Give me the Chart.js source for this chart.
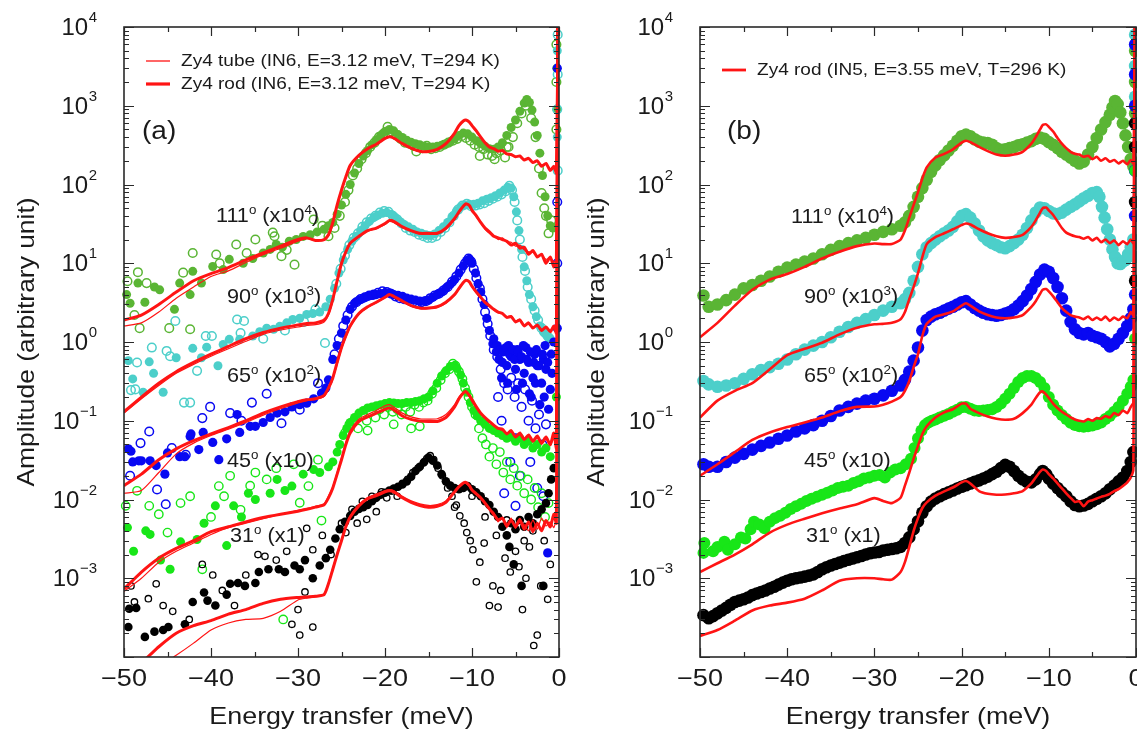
<!DOCTYPE html>
<html><head><meta charset="utf-8">
<script src="https://cdn.jsdelivr.net/npm/chart.js@4.4.1/dist/chart.umd.min.js"></script>
<style>
html,body{margin:0;padding:0;background:#fff;overflow:hidden;width:1137px;height:733px;position:relative;}
#ca{position:absolute;left:0;top:0;}
#cb{position:absolute;left:570px;top:0;}
</style></head><body>
<canvas id="ca" width="570" height="733"></canvas>
<canvas id="cb" width="590" height="733"></canvas>
<script>
// ---------- shared axes ----------
const X_TICKS = [-50, -40, -30, -20, -10, 0];
const X_TICK_LABELS = ['\u221250', '\u221240', '\u221230', '\u221220', '\u221210', '0'];
const Y_DECADES = [-3, -2, -1, 0, 1, 2, 3, 4];
const X_TITLE = 'Energy transfer (meV)';
const Y_TITLE = 'Amplitude (arbitrary unit)';
const ANGLE_LABELS = ['111', '90', '65', '45', '31'];
const SCALE_LABELS = ['(x10', '(x10', '(x10', '(x10)', '(x1)'];
const SCALE_EXPONENTS = ['4', '3', '2', '', ''];

// energy grid of the red reference curves
const E_RED = [-50,-48,-46,-44,-42,-40,-38,-36,-34,-32,
 -30,-29,-28,-27,-26.5,-26,-25.5,-25,-24.5,-24,
 -23,-22,-21,-20,-19.5,-19,-18,-17,-16,-15,
 -14,-13,-12,-11.5,-11,-10.7,-10.3,-10,-9.5,-9,
 -8.5,-8,-7.5,-7,-6.5,-6,-5.5,-5,-4.5,-4,
 -3.5,-3,-2.5,-2,-1.5,-1,-0.6,-0.3,-0.1];

// ---------- panel (a): red curves ----------
const A111_ROD = [1.9,2.2,3.0,4.3,6.0,7.4,8.8,11,13.5,16.5,
 20,21,19.5,20,23,33,55,85,125,175,
 235,285,325,385,405,390,330,290,265,262,
 280,330,450,560,640,660,620,560,480,400,
 340,300,285,265,270,245,240,225,230,205,
 215,190,200,170,185,150,170,140,20000];
const A111_TUBE = [1.6,1.75,2.4,3.6,5.0,6.8,8.0,10.2,12.8,15.5,
 19,20.5,19.5,19.5,22,31,52,82,120,170,
 230,280,320,380,400,385,325,285,262,260,
 278,325,440,550,630,650,610,550,470,395,
 335,295,280,262,268,240,245,222,232,208,
 212,192,198,175,182,158,168,145,20000];
const A90_ROD = [0.13,0.2,0.3,0.42,0.55,0.7,0.88,1.1,1.32,1.5,
 1.65,1.72,1.75,1.9,2.3,3.5,6,10,14,18,
 22,26,28,32,35,34,29,26,24,24,
 24,28,37,45,53,57,54,47,40,33,
 28,25,22,21,20,19,17,18,15.5,16,
 13,14.5,12,13,10,12,9,11,20000];
const A90_TUBE = [0.125,0.19,0.28,0.4,0.52,0.66,0.82,1.02,1.25,1.42,
 1.55,1.62,1.66,1.8,2.2,3.3,5.7,9.5,13.5,17.5,
 21.5,25.5,27.5,31,34,33,28.5,25.5,23.5,23.5,
 23.5,27,36,44,52,56,53,46,39,32.5,
 27,24,22.5,20,21,18.5,18.5,16.5,17,14.8,
 14,13.8,12.5,12.8,11.2,11.8,10.5,10.8,20000];
const A65_ROD = [0.015,0.021,0.032,0.044,0.056,0.068,0.082,0.1,0.125,0.15,
 0.175,0.185,0.19,0.21,0.26,0.35,0.55,0.85,1.2,1.6,
 2.3,2.8,3.2,3.7,4.0,3.8,3.3,2.9,2.7,2.7,
 2.8,3.2,4.0,4.8,5.7,6.1,5.8,5.1,4.3,3.7,
 3.2,2.9,2.6,2.4,2.3,2.05,2.1,1.8,1.9,1.6,
 1.75,1.5,1.65,1.4,1.55,1.35,1.6,1.3,20000];
const A65_TUBE = [0.012,0.013,0.022,0.038,0.052,0.065,0.078,0.095,0.118,0.142,
 0.168,0.18,0.186,0.205,0.25,0.34,0.52,0.82,1.15,1.55,
 2.25,2.75,3.15,3.65,3.95,3.75,3.25,2.85,2.65,2.65,
 2.75,3.1,3.9,4.7,5.6,6.0,5.7,5.0,4.2,3.6,
 3.1,2.8,2.55,2.35,2.3,2.1,2.15,1.85,1.95,1.65,
 1.7,1.55,1.6,1.45,1.5,1.4,1.5,1.35,20000];
const A45_ROD = [7.3e-4,1.2e-3,1.8e-3,2.4e-3,3.0e-3,3.9e-3,4.5e-3,5.2e-3,5.9e-3,6.5e-3,
 7.1e-3,7.5e-3,8.0e-3,8.6e-3,0.0105,0.014,0.021,0.032,0.05,0.07,
 0.098,0.112,0.125,0.14,0.145,0.138,0.115,0.104,0.099,0.098,
 0.098,0.11,0.15,0.19,0.225,0.235,0.21,0.185,0.15,0.125,
 0.11,0.098,0.088,0.08,0.078,0.068,0.075,0.062,0.07,0.058,
 0.066,0.055,0.064,0.052,0.062,0.05,0.07,0.045,20000];
const A45_TUBE = [6.8e-4,1.0e-3,1.6e-3,2.2e-3,2.8e-3,3.6e-3,4.4e-3,5.0e-3,5.7e-3,6.5e-3,
 7.3e-3,7.7e-3,8.2e-3,8.8e-3,0.011,0.0145,0.022,0.034,0.053,0.075,
 0.105,0.12,0.135,0.155,0.16,0.15,0.125,0.112,0.106,0.105,
 0.106,0.12,0.16,0.2,0.23,0.23,0.2,0.175,0.145,0.122,
 0.106,0.095,0.086,0.08,0.075,0.07,0.072,0.062,0.066,0.057,
 0.063,0.054,0.06,0.05,0.058,0.048,0.06,0.046,20000];
const A31_ROD = [6.5e-5,8.5e-5,1.35e-4,2.0e-4,2.5e-4,2.9e-4,3.5e-4,4.0e-4,4.8e-4,5.4e-4,
 5.7e-4,5.8e-4,5.9e-4,6.2e-4,8.5e-4,1.3e-3,2.0e-3,3.0e-3,4.5e-3,6.0e-3,
 8.3e-3,0.0102,0.0112,0.0125,0.0129,0.0125,0.0105,9.2e-3,8.4e-3,8.0e-3,
 8.2e-3,9.2e-3,0.0125,0.0145,0.0162,0.0165,0.015,0.0132,0.0118,0.0105,
 9.0e-3,7.6e-3,6.5e-3,5.5e-3,5.8e-3,4.6e-3,5.5e-3,4.5e-3,5.6e-3,4.2e-3,
 5.2e-3,3.9e-3,5.0e-3,4.0e-3,5.4e-3,4.5e-3,6.5e-3,5.0e-3,20000];
const A31_TUBE = [4e-5,5.5e-5,7.5e-5,1.05e-4,1.5e-4,2.2e-4,2.7e-4,3.0e-4,3.1e-4,3.8e-4,
 5.3e-4,5.6e-4,5.8e-4,6.3e-4,8.8e-4,1.35e-3,2.1e-3,3.1e-3,4.6e-3,6.2e-3,
 8.6e-3,0.0106,0.0117,0.013,0.0134,0.013,0.011,9.6e-3,8.8e-3,8.4e-3,
 8.6e-3,9.6e-3,0.0128,0.0148,0.016,0.016,0.0146,0.013,0.0115,0.0102,
 8.8e-3,7.4e-3,6.8e-3,5.2e-3,6.0e-3,4.4e-3,5.8e-3,4.3e-3,5.2e-3,4.8e-3,
 4.0e-3,5.5e-3,4.2e-3,5.8e-3,4.6e-3,5.2e-3,4.4e-3,6.0e-3,20000];

// ---------- panel (a): measured points [E, amplitude] ----------
const A111_FILLED = [[-49.7,4.0],[-49.3,3.1],[-48.4,5.6],[-47.6,3.2],[-46.5,5.0],[-45.9,4.6],[-44.2,2.6],[-43.6,5.6],[-42.4,4.0],[-42.1,7.9],[-41.1,5.6],[-39.8,9.1],[-38.6,8.3],[-37.9,11.2],[-36.3,10],[-35.2,11.5],[-34,13.5],[-33.2,15],[-32.5,17.3],[-31.8,16],[-31,19],[-30.2,20],[-29.4,21.9],[-28.6,23],[-27.8,25],[-27,27],[-26.5,30],
 [-26,33],[-25.5,42],[-25,55],[-24.5,75],[-24,100],[-23.5,140],[-23,185],[-22.5,230],[-22,270],[-21.5,320],[-21,370],[-20.5,420],[-20,470],[-19.5,500],[-19,480],[-18.5,430],[-18,395],[-17.5,365],[-17,345],[-16.5,330],[-16,320],[-15.5,305],[-15,300],[-14.5,300],[-14,305],[-13.5,315],[-13,330],[-12.5,350],[-12,380],[-11.5,420],[-11,450],[-10.5,440],[-10,400],[-9.5,360],[-9,330],[-8.5,305],[-8,285],[-7.5,280],[-7,300],[-6.5,340],[-6,420],[-5.5,530],[-5,660],[-4.5,850],[-4,1080],[-3.7,1200],[-3.4,1100],[-3.1,880],[-2.8,620],[-2.5,420],[-2.2,250],[-1.9,130],[-1.6,70],[-1.3,40],[-1,30],[-0.7,28],[-0.25,3000],[-0.25,900]];
const A111_OPEN = [[-49.6,5.9],[-48.4,7.7],[-47.4,5.6],[-48.8,2.2],[-48.2,1.5],[-44.8,1.5],[-42.4,1.45],[-43.2,7.6],[-42.1,13.5],[-39.4,12.9],[-39,10],[-37.1,17.3],[-35.9,13.5],[-34.9,20],[-32.9,24.5],[-32.7,22],[-31.9,12.3],[-31.3,14.8],[-30.4,9.6],[-28.2,36],[-27.2,30],[-26.5,22],[-25.8,28],[-25.2,40],[-24.6,60],
 [-24.2,85],[-23.7,130],[-23.2,160],[-22.7,210],[-22.2,250],[-21.7,300],[-21.2,340],[-20.7,400],[-20.2,440],[-19.7,540],[-19.2,470],[-18.7,420],[-18.2,380],[-17.7,340],[-17.2,330],[-16.7,310],[-16.4,263],[-16.2,300],[-15.7,290],[-15.2,310],[-14.7,280],[-14.2,290],[-13.7,300],[-13.2,320],[-12.7,340],[-12.2,360],[-11.7,380],[-11.2,410],[-10.7,390],[-10.2,360],[-9.7,320],[-9.2,300],[-9.1,230],[-8.7,280],[-8.2,240],[-7.7,230],[-7.4,210],[-7.2,250],[-6.7,270],[-6.2,220],[-6,300],[-5.8,300],[-5.3,400],[-4.8,600],[-4.3,800],[-3.8,1000],[-3.2,700],[-2.7,400],[-2.3,160],[-2,78],[-1.7,50],[-1.5,40],[-1.2,24],[-0.9,35],[-0.3,6000],[-0.3,2000],[-0.3,500]];

const A90_FILLED = [[-49.5,0.58],[-49.0,0.34],[-47.8,0.23],[-47.1,0.56],[-46.6,0.40],[-45.5,0.23],[-44.0,0.63],[-42.1,0.83],[-41.1,0.63],[-40.5,0.86],[-39.2,0.50],[-38.6,0.93],[-37.9,1.08],[-36.7,1.08],[-35.2,1.19],[-34.4,1.35],[-33.6,1.5],[-32.8,1.45],[-32.1,1.58],[-31.3,1.75],[-30.6,1.93],[-29.8,2.0],[-29.0,2.24],[-28.3,2.3],[-27.5,2.4],[-26.8,2.8],[-26.3,3.5],[-25.8,4.8],[-25.3,7.5],[-24.8,11],[-24.3,15],[-23.8,19],[-23.3,22],[-22.8,26],[-22.3,30],[-21.8,34],[-21.3,38],[-20.8,41],[-20.3,43],[-19.8,44],[-19.3,42],[-18.8,38],[-18.3,34],[-17.8,31],[-17.3,29],[-16.8,27],[-16.3,25],[-15.8,24],[-15.3,23],[-14.8,22.5],[-14.3,23.5],[-13.8,26],[-13.3,29],[-12.8,33],[-12.3,39],[-11.8,46],[-11.3,52],[-10.8,55],[-10.3,56],[-9.8,56],[-9.3,58],[-8.8,62],[-8.3,65],[-7.8,68],[-7.3,72],[-6.8,78],[-6.3,85],[-5.9,92],[-5.5,90],[-5.2,70],[-4.9,45],[-4.6,26],[-4.3,15],[-4,9],[-3.7,6],[-3.4,4],[-3,2.8],[-2.6,2.1],[-2.2,1.6],[-1.8,1.35],[-1.4,1.2],[-1,1.1],[-0.2,5000],[-0.2,400]];
const A90_OPEN = [[-49.2,0.245],[-48.7,0.25],[-48.5,0.55],[-46.8,0.85],[-45.1,0.77],[-44.7,0.66],[-44.1,1.85],[-43.1,0.17],[-42.4,0.17],[-41.6,0.43],[-40.6,1.19],[-39.9,1.19],[-37,1.93],[-36.6,1.3],[-36.2,1.85],[-34,1.1],[-31.5,1.4],[-29.3,1.8],[-28,2.6],[-26.9,0.97],
 [-25.6,5.5],[-25.1,8.5],[-24.6,12.5],[-24.1,17],[-23.6,21],[-23.1,24],[-22.6,29],[-22.1,33],[-21.6,37],[-21.1,40],[-20.6,44],[-20.1,46],[-19.6,45],[-19.1,40],[-18.6,36],[-18.1,32],[-17.6,28],[-17.1,26],[-16.6,25],[-16.1,23],[-15.6,22],[-15.1,21],[-14.6,21],[-14.1,22],[-13.6,25],[-13.1,28],[-12.6,33],[-12.1,40],[-11.6,48],[-11.1,54],[-10.6,57],[-10.1,53],[-9.6,54],[-9.1,56],[-8.6,58],[-8.1,62],[-7.6,66],[-7.1,70],[-6.6,75],[-6.1,82],[-5.7,96],[-5.4,85],[-5.1,60],[-4.8,35],[-4.5,20],[-4.2,12],[-3.9,8],[-3.6,5],[-3.2,3.5],[-2.8,2.5],[-2.4,1.9],[-2,1.5],[-1.6,1.3],[-1.2,1.15],[-0.15,8000],[-0.15,2500],[-0.2,900],[-0.15,150]];

const A65_FILLED = [[-49.5,0.044],[-49.2,0.041],[-49,0.030],[-48.3,0.031],[-48,0.031],[-47,0.031],[-46.3,0.027],[-45.3,0.021],[-45,0.039],[-43.6,0.035],[-43,0.035],[-42.4,0.063],[-42.3,0.068],[-41.4,0.043],[-40.9,0.071],[-39.8,0.053],[-39.1,0.032],[-38.2,0.059],[-37,0.12],[-36.7,0.071],[-35.5,0.085],[-34.9,0.085],[-34,0.095],[-33.2,0.11],[-32.4,0.125],[-31.5,0.13],[-30.7,0.15],[-29.8,0.16],[-29,0.167],[-28.2,0.19],[-27.3,0.224],[-26.8,0.26],[-26.5,0.33],[-26,0.6],[-25.5,0.9],[-25,1.3],[-24.5,1.9],[-24,2.6],[-23.5,3.1],[-23,3.4],[-22.5,3.6],[-22,3.8],[-21.5,3.9],[-21,4.0],[-20.5,4.1],[-20,4.2],[-19.5,4.2],[-19,4.0],[-18.5,3.9],[-18,3.8],[-17.5,3.6],[-17,3.5],[-16.5,3.4],[-16,3.3],[-15.5,3.3],[-15,3.4],[-14.5,3.7],[-14,4.0],[-13.5,4.3],[-13,4.8],[-12.5,5.4],[-12,6.2],[-11.5,7.5],[-11,9.2],[-10.6,10.8],[-10.3,11.2],[-10,10],[-9.6,7.5],[-9.3,5.5],[-9,4.3],[-8.6,3],[-8.3,2],[-8,1.4],[-7.6,0.95],[-7.2,0.75],[-6.9,0.6],[-6.5,0.55],[-6,0.5],[-5.8,0.9],[-5.5,0.65],[-5,0.45],[-4.8,0.8],[-4.5,0.6],[-4,0.4],[-3.8,0.85],[-3.5,0.55],[-3.2,0.2],[-3,0.35],[-2.8,0.7],[-2.5,0.5],[-2.2,0.16],[-2,0.3],[-1.8,0.6],[-1.5,0.45],[-1.2,0.14],[-1,0.25],[-1.3,2.1e-3],[-0.2,3000],[-0.2,1.5],
 [-7.5,1.1],[-7.1,0.9],[-6.8,0.8],[-6.4,0.75],[-6.1,0.85],[-5.7,0.7],[-5.3,0.8],[-5.1,0.6],[-4.7,0.75],[-4.3,0.65],[-4.1,0.9],[-3.7,0.6],[-3.3,0.75],[-2.9,0.55],[-2.6,0.8],[-2.3,0.5],[-1.9,0.7],[-1.6,0.9],[-1.3,0.55],[-0.9,0.7],[-0.6,1.0],[-6.6,0.35],[-5.9,0.3],[-4.9,0.25],[-4.2,0.3],[-3.4,0.22],[-2.7,0.3],[-1.7,0.2],[-0.8,0.4]];
const A65_OPEN = [[-49.3,0.02],[-48.1,0.052],[-47.1,0.073],[-46.2,0.0134],[-45.2,0.0087],[-44.5,0.045],[-42.9,0.037],[-41,0.108],[-40.1,0.15],[-37.8,0.125],[-36.5,0.1],[-35.3,0.17],[-33.6,0.22],[-31.9,0.093],[-29.8,0.138],[-27.7,0.30],
 [-25.8,0.7],[-25.3,1.1],[-24.8,1.6],[-24.3,2.2],[-23.8,2.8],[-23.3,3.2],[-22.8,3.5],[-22.3,3.7],[-21.8,3.9],[-21.3,4.0],[-20.8,4.2],[-20.3,4.4],[-19.8,4.3],[-19.3,4.1],[-18.8,3.8],[-18.3,3.6],[-17.8,3.5],[-17.3,3.4],[-16.8,3.2],[-16.3,3.1],[-15.8,3.2],[-15.3,3.3],[-14.8,3.6],[-14.3,3.9],[-13.8,4.1],[-13.3,4.5],[-12.8,5.0],[-12.3,5.8],[-11.8,6.8],[-11.3,8.3],[-10.8,10],[-10.4,11.5],[-10.1,10.5],[-9.8,8.5],[-9.5,6.5],[-9.1,4.8],[-8.8,3.5],[-8.5,2.4],[-8.2,1.7],[-7.9,1.2],[-7.5,0.8],[-7.1,0.65],[-7,0.2],[-6.7,0.45],[-6.6,0.1],[-6.3,0.3],[-6.3,0.012],[-5.9,0.25],[-5.6,0.03],[-5.5,0.35],[-5.1,0.2],[-5,0.06],[-5,8.3e-3],[-4.7,0.3],[-4.5,0.02],[-4.3,0.15],[-3.9,0.25],[-3.5,0.1],[-3.3,0.03],[-3.1,0.18],[-2.7,0.08],[-2.5,0.014],[-2.3,0.12],[-1.9,0.05],[-1.8,0.011],[-1.5,0.09],[-0.2,60],[-0.2,10]];

const A45_FILLED = [[-49.6,4.4e-3],[-48.9,2.2e-3],[-47.5,4.0e-3],[-47,3.6e-3],[-45.8,1.7e-3],[-44.7,1.3e-3],[-43.5,2.9e-3],[-41.6,3.1e-3],[-40.8,5.0e-3],[-39.5,8.3e-3],[-38.2,2.6e-3],[-37.4,8.3e-3],[-36.5,6e-3],[-35.7,0.012],[-34.9,0.01],[-33.2,0.012],[-32.4,0.018],[-31.5,0.013],[-30.7,0.0148],[-29.4,0.021],[-28.2,0.024],[-27.5,0.022],[-26.5,0.026],[-26,0.03],[-25.5,0.04],[-25.2,0.05],[-24.8,0.065],[-24.4,0.08],[-24,0.095],[-23.5,0.11],[-23,0.125],[-22.5,0.135],[-22,0.145],[-21.5,0.15],[-21,0.155],[-20.5,0.16],[-20,0.165],[-19.5,0.17],[-19,0.168],[-18.5,0.165],[-18,0.165],[-17.5,0.17],[-17,0.17],[-16.5,0.175],[-16,0.18],[-15.5,0.19],[-15,0.2],[-14.5,0.24],[-14,0.3],[-13.5,0.37],[-13,0.43],[-12.5,0.49],[-12,0.5],[-11.7,0.46],[-11.3,0.38],[-11,0.3],[-10.6,0.23],[-10.2,0.17],[-9.8,0.135],[-9.4,0.115],[-9,0.1],[-8.5,0.09],[-8,0.08],[-7.5,0.075],[-7,0.07],[-6.5,0.065],[-6,0.06],[-5.5,0.062],[-5,0.055],[-4.5,0.06],[-4,0.05],[-3.5,0.055],[-3,0.045],[-2.5,0.05],[-2,0.04],[-1.5,0.045],[-1,0.035],[-0.3,0.2]];
const A45_OPEN = [[-49.8,8.3e-3],[-48.5,0.0129],[-47.1,8.3e-3],[-46,6.5e-3],[-45,3.8e-3],[-43.5,9e-3],[-42.4,0.011],[-41,1.3e-3],[-40,6e-3],[-39.1,0.0148],[-38.5,0.011],[-37.8,0.02],[-36.6,7.4e-3],[-35.5,0.015],[-34.9,0.022],[-33.6,0.018],[-32.5,0.025],[-31.7,3.0e-4],[-30.5,0.028],[-29.8,9.1e-3],[-28.8,0.0148],[-27.7,0.032],[-27.3,5.4e-3],
 [-24.6,0.07],[-24.1,0.09],[-23.6,0.1],[-23.1,0.08],[-22.6,0.12],[-22.1,0.1],[-22,0.075],[-21.6,0.13],[-21.1,0.11],[-20.6,0.14],[-20.1,0.12],[-19.6,0.15],[-19.1,0.13],[-19,0.09],[-18.6,0.14],[-18.1,0.12],[-17.6,0.15],[-17.1,0.13],[-17,0.08],[-16.6,0.16],[-16.1,0.15],[-16,0.085],[-15.6,0.17],[-15.1,0.18],[-14.6,0.22],[-14.1,0.26],[-13.6,0.33],[-13.1,0.4],[-12.6,0.45],[-12.2,0.53],[-11.9,0.5],[-11.5,0.42],[-11.1,0.34],[-10.8,0.26],[-10.4,0.2],[-10,0.15],[-9.6,0.12],[-9.2,0.08],[-8.8,0.06],[-8.4,0.05],[-8,0.035],[-7.6,0.045],[-7.2,0.028],[-6.8,0.04],[-6.4,0.022],[-6,0.03],[-5.6,0.018],[-5.2,0.025],[-4.8,0.015],[-4.4,0.02],[-4,0.012],[-3.6,0.018],[-3.2,0.01],[-2.8,0.014],[-2.4,0.008],[-2,0.012],[-1.6,0.006],[-1.2,0.009]];

const A31_FILLED = [[-49.5,2.4e-4],[-49.4,4.1e-4],[-48.6,4.2e-4],[-47.6,1.8e-4],[-46.5,2.1e-4],[-45.5,2.2e-4],[-44.9,2.4e-4],[-43,2.6e-4],[-42.1,5.0e-4],[-40.8,6.6e-4],[-40.4,5.2e-4],[-39.5,4.5e-4],[-38.2,6.2e-4],[-37.8,8.5e-4],[-36.9,8.7e-4],[-36.1,8e-4],[-34.9,8.7e-4],[-34.5,1.2e-3],[-33.4,1.3e-3],[-32.2,1.3e-3],[-31.5,1.2e-3],[-30.4,1.45e-3],[-29.8,1.3e-3],[-29.2,1.7e-3],[-28.3,1.0e-3],[-27.5,1.45e-3],[-26.8,1.8e-3],[-26.3,2.3e-3],[-25.7,3.2e-3],[-25.2,4.2e-3],[-24.6,5.2e-3],[-24,6.2e-3],[-23.5,7e-3],[-23,7.6e-3],[-22.5,8e-3],[-22,8.5e-3],[-21.5,9.5e-3],[-21,0.0105],[-20.5,0.0115],[-20,0.0122],[-19.5,0.013],[-19,0.0138],[-18.5,0.0145],[-18,0.0155],[-17.5,0.017],[-17,0.0195],[-16.5,0.023],[-16,0.026],[-15.5,0.03],[-15,0.034],[-14.5,0.031],[-14,0.027],[-13.5,0.021],[-13,0.017],[-12.5,0.015],[-12,0.014],[-11.5,0.0135],[-11,0.014],[-10.5,0.0148],[-10,0.0135],[-9.5,0.0123],[-9,0.011],[-8.5,0.0095],[-8,0.0085],[-7.5,0.007],[-7,0.006],[-6.5,0.0045],[-6,0.0035],[-5.7,2.5e-3],[-5.5,0.005],[-5.2,1.5e-3],[-5,0.0042],[-4.5,0.0055],[-4.3,8e-4],[-4,0.0045],[-3.5,0.006],[-3,0.005],[-2.5,0.0065],[-2,0.0075],[-1.8,8e-4],[-1.5,0.009],[-1.2,0.012],[-0.9,0.018],[-0.6,0.025]];
const A31_OPEN = [[-49.2,8e-4],[-48.8,5e-4],[-47.2,5.5e-4],[-46.3,8.5e-4],[-45.5,4.5e-4],[-44.4,3.8e-4],[-42.5,3.0e-4],[-41,1.5e-3],[-39.8,1.1e-3],[-38.7,7e-4],[-37.3,4.5e-4],[-36,1.1e-3],[-34.6,2.0e-3],[-33.8,1.9e-3],[-32.5,1.7e-3],[-31.3,2.2e-3],[-30.7,2.6e-4],[-30,4.0e-4],[-29.8,1.9e-4],[-29.2,6.7e-4],[-29,4.3e-3],[-28.3,2.4e-4],[-28.3,2.3e-3],[-27.2,3.5e-3],[-26.2,2e-3],
 [-25,5e-3],[-24.5,3.8e-3],[-23.8,7.5e-3],[-23.2,5e-3],[-22.6,9.5e-3],[-22.1,5.6e-3],[-21.5,0.011],[-21,7e-3],[-20.4,0.0125],[-19.8,0.0105],[-19.2,0.0128],[-18.6,0.011],[-18,0.016],[-17.4,0.018],[-16.8,0.022],[-16.2,0.025],[-15.6,0.029],[-15.2,0.033],[-14.8,0.036],[-14.4,0.032],[-13.9,0.025],[-13.4,0.02],[-12.8,0.014],[-12.3,0.011],[-12,8e-3],[-11.8,8.5e-3],[-11.4,6.2e-3],[-10.9,5e-3],[-10.6,3.8e-3],[-10.2,3e-3],[-10,1.1e-2],[-9.9,2.3e-3],[-9.5,9e-4],[-9.1,1.6e-3],[-8.6,2.8e-3],[-8.5,6e-3],[-8,4.5e-4],[-7.6,8e-4],[-7.2,3.5e-3],[-7,4.3e-4],[-6.7,7e-4],[-6.2,1.8e-3],[-6,5.5e-3],[-5.6,1.2e-3],[-5,2.2e-3],[-4.6,1.4e-3],[-4.2,4e-4],[-4,3e-3],[-3.8,1.0e-3],[-3.4,2.5e-3],[-3,4e-3],[-2.9,1.4e-4],[-2.5,1.9e-4],[-2.1,8e-4],[-1.7,3e-3],[-1.3,5.4e-4],[-1,1.5e-3]];

// ---------- panel (b): red curves ----------
const B111_ROD = [1.15,1.75,2.9,4.6,6.2,7.3,9.0,11.5,14,16.5,
 17.8,17.5,17.5,20,26,38,55,80,120,165,
 220,245,280,340,360,345,300,265,240,232,
 240,260,330,400,500,570,580,540,470,390,
 330,290,260,245,240,225,232,210,225,200,
 215,195,205,185,200,180,205,185,20000];
const B90_ROD = [0.11,0.18,0.24,0.3,0.45,0.68,0.82,0.98,1.25,1.52,
 1.68,1.7,1.75,1.95,2.4,3.5,5,7.5,12,17.5,
 21.5,24,27,30.5,32,31,27,24,22,21,
 21.5,23,29,35,44,50,51,47,41,34,
 28,24.5,23,22,21.5,20.5,21.5,19.5,21,18.5,
 20,18,19.5,17,19,17.5,20,18,20000];
const B65_ROD = [0.02,0.028,0.04,0.057,0.071,0.083,0.095,0.11,0.132,0.15,
 0.152,0.16,0.175,0.2,0.24,0.32,0.48,0.7,1.2,1.7,
 2.1,2.25,2.45,2.9,3.1,2.9,2.45,2.2,2.05,2.0,
 2.05,2.2,2.8,3.3,4.1,4.6,4.7,4.4,3.8,3.2,
 2.7,2.4,2.2,2.1,2.05,1.95,2.1,1.9,2.05,1.9,
 2.1,1.85,2.05,1.9,2.1,2.0,2.4,2.2,20000];
const B45_ROD = [1.2e-3,1.55e-3,2.0e-3,2.7e-3,3.8e-3,4.8e-3,5.7e-3,6.7e-3,7.7e-3,8.7e-3,
 0.0104,9.6e-3,9.0e-3,0.0105,0.015,0.022,0.033,0.048,0.068,0.085,
 0.11,0.128,0.14,0.165,0.165,0.142,0.125,0.113,0.106,0.103,
 0.106,0.125,0.16,0.195,0.23,0.235,0.215,0.195,0.165,0.145,
 0.13,0.12,0.11,0.104,0.1,0.098,0.105,0.1,0.108,0.106,
 0.115,0.11,0.125,0.118,0.135,0.125,0.15,0.17,20000];
const B31_ROD = [1.85e-4,2.2e-4,2.9e-4,3.9e-4,4.5e-4,4.9e-4,5.5e-4,7.0e-4,9.3e-4,1.0e-3,
 1.0e-3,9.7e-4,9.6e-4,1.2e-3,1.6e-3,2.5e-3,4.0e-3,5.8e-3,7.8e-3,9.2e-3,
 0.0112,0.0127,0.0142,0.0165,0.0172,0.016,0.0128,0.0118,0.0115,0.0116,
 0.012,0.0128,0.016,0.019,0.0225,0.024,0.023,0.021,0.0185,0.016,
 0.0138,0.012,0.0105,0.0093,0.0095,0.0082,0.0094,0.0098,0.0103,0.0108,
 0.0112,0.0118,0.0128,0.0135,0.0148,0.0165,0.019,0.024,20000];

// ---------- panel (b): measured points [E, amplitude] ----------
const B111_DATA = [[-49.6,3.9],[-49,2.8],[-48,3.0],[-47,3.4],[-46,4.0],[-45,4.8],[-44,5.3],[-43,6.0],[-42,6.8],[-41,7.8],[-40,8.8],[-39,9.6],[-38,10.5],[-37,11.5],[-36,13],[-35,14.8],[-34,16.5],[-33,18],[-32,19.5],[-31,21],[-30,23],[-29,25],[-28,27],[-27,30],[-26.5,33],[-26,40],[-25.5,52],[-25,70],[-24.5,90],[-24,115],[-23.5,145],[-23,175],[-22.5,205],[-22,235],[-21.5,270],[-21,310],[-20.5,360],[-20,410],[-19.5,430],[-19,410],[-18.5,375],[-18,350],[-17.5,340],[-17,335],[-16.5,320],[-16,290],[-15.5,275],[-15,280],[-14.5,290],[-14,300],[-13.5,315],[-13,325],[-12.5,340],[-12,355],[-11.5,380],[-11,395],[-10.5,380],[-10,345],[-9.5,320],[-9,290],[-8.5,260],[-8,240],[-7.5,220],[-7,200],[-6.5,185],[-6,195],[-5.5,240],[-5,300],[-4.5,390],[-4,500],[-3.5,620],[-3,770],[-2.7,950],[-2.4,1150],[-2.1,1050],[-1.8,820],[-1.5,600],[-1.2,420],[-0.9,300],[-0.6,210],[-0.3,170],[-0.1,5000],[-0.1,2000],[-0.1,800]];
const B90_DATA = [[-49.6,0.32],[-49,0.29],[-48,0.27],[-47,0.28],[-46,0.30],[-45,0.34],[-44,0.39],[-43,0.44],[-42,0.48],[-41,0.53],[-40,0.6],[-39,0.7],[-38,0.8],[-37,0.9],[-36,1.0],[-35,1.15],[-34,1.35],[-33,1.55],[-32,1.75],[-31,1.95],[-30,2.2],[-29,2.5],[-28,2.8],[-27,3.1],[-26.5,3.5],[-26,4.2],[-25.5,6],[-25,9],[-24.5,13],[-24,16],[-23.5,18],[-23,20],[-22.5,22],[-22,24],[-21.5,26],[-21,29],[-20.5,34],[-20,40],[-19.5,42],[-19,38],[-18.5,32],[-18,26],[-17.5,22],[-17,19.5],[-16.5,18],[-16,17],[-15.5,16],[-15,15.5],[-14.5,16.5],[-14,18],[-13.5,20],[-13,23],[-12.5,28],[-12,35],[-11.5,44],[-11,51],[-10.5,50],[-10,46],[-9.5,43],[-9,42],[-8.5,44],[-8,48],[-7.5,52],[-7,56],[-6.5,61],[-6,67],[-5.5,72],[-5,78],[-4.5,80],[-4.2,70],[-3.9,52],[-3.6,38],[-3.3,27],[-3,20],[-2.7,15],[-2.4,12],[-2.1,10],[-1.8,9.8],[-1.5,10.5],[-1.2,11],[-0.9,13],[-0.6,16],[-0.3,20],[-0.1,8000],[-0.1,3200],[-0.1,1300],[-0.1,12]];
const B65_DATA = [[-49.6,0.028],[-49,0.026],[-48,0.026],[-47,0.030],[-46,0.034],[-45,0.038],[-44,0.043],[-43,0.048],[-42,0.053],[-41,0.059],[-40,0.065],[-39,0.073],[-38,0.08],[-37,0.088],[-36,0.1],[-35,0.115],[-34,0.135],[-33,0.15],[-32,0.165],[-31,0.18],[-30,0.19],[-29,0.21],[-28,0.24],[-27,0.28],[-26.5,0.33],[-26,0.42],[-25.5,0.58],[-25,0.85],[-24.5,1.4],[-24,1.9],[-23.5,2.1],[-23,2.25],[-22.5,2.35],[-22,2.5],[-21.5,2.65],[-21,2.8],[-20.5,3.0],[-20,3.2],[-19.5,3.3],[-19,3.0],[-18.5,2.7],[-18,2.5],[-17.5,2.35],[-17,2.25],[-16.5,2.2],[-16,2.15],[-15.5,2.2],[-15,2.3],[-14.5,2.4],[-14,2.6],[-13.5,2.9],[-13,3.3],[-12.5,3.9],[-12,4.7],[-11.5,5.8],[-11,7.2],[-10.5,8.3],[-10,7.8],[-9.5,6.5],[-9,5.0],[-8.5,3.6],[-8,2.5],[-7.5,1.8],[-7,1.45],[-6.5,1.3],[-6,1.25],[-5.5,1.3],[-5,1.2],[-4.5,1.15],[-4,1.1],[-3.5,1.0],[-3,0.88],[-2.5,0.95],[-2,1.1],[-1.5,1.3],[-1,1.6],[-0.6,2.0],[-0.3,2.6],[-0.1,6000],[-0.1,2500],[-0.1,1000],[-0.1,150],[-0.1,40],[-0.1,4]];
const B45_DATA = [[-49.6,2.1e-3],[-49.5,2.8e-3],[-48.5,2.2e-3],[-48,2.5e-3],[-47.2,2.9e-3],[-46.8,2.3e-3],[-46,2.7e-3],[-45.3,3.3e-3],[-44.8,3.2e-3],[-44.2,4.2e-3],[-43.8,5.2e-3],[-43.2,4.8e-3],[-42.6,4.3e-3],[-42,5.2e-3],[-41.4,5.8e-3],[-40.8,6.2e-3],[-40.2,6.8e-3],[-39.6,7.6e-3],[-39,8.2e-3],[-38.4,8.8e-3],[-37.8,9.6e-3],[-37.2,0.0102],[-36.6,0.0108],[-36,0.0115],[-35.4,0.0122],[-34.8,0.013],[-34.2,0.014],[-33.6,0.0145],[-33,0.015],[-32.4,0.0162],[-31.8,0.017],[-31.2,0.0185],[-30.6,0.019],[-30,0.02],[-29.4,0.0205],[-28.8,0.019],[-28.2,0.022],[-27.6,0.024],[-27,0.025],[-26.4,0.028],[-25.8,0.033],[-25.4,0.045],[-25,0.06],[-24.6,0.075],[-24.2,0.088],[-23.8,0.095],[-23.4,0.1],[-23,0.104],[-22.5,0.11],[-22,0.116],[-21.5,0.122],[-21,0.13],[-20.5,0.138],[-20,0.148],[-19.5,0.15],[-19,0.142],[-18.5,0.135],[-18,0.133],[-17.5,0.135],[-17,0.137],[-16.5,0.14],[-16,0.15],[-15.5,0.165],[-15,0.19],[-14.5,0.22],[-14,0.26],[-13.5,0.31],[-13,0.35],[-12.5,0.37],[-12,0.37],[-11.5,0.35],[-11,0.31],[-10.5,0.26],[-10,0.2],[-9.5,0.16],[-9,0.135],[-8.5,0.118],[-8,0.105],[-7.5,0.094],[-7,0.088],[-6.5,0.085],[-6,0.084],[-5.5,0.085],[-5,0.087],[-4.5,0.09],[-4,0.095],[-3.5,0.105],[-3,0.115],[-2.5,0.13],[-2,0.15],[-1.5,0.18],[-1,0.22],[-0.6,0.27],[-0.3,0.33],[-0.1,150],[-0.1,1.1]];
const B31_DATA = [[-49.6,3.4e-4],[-49,3.1e-4],[-48.5,3.3e-4],[-48,3.6e-4],[-47.5,3.9e-4],[-47,4.2e-4],[-46.5,4.6e-4],[-46,5.0e-4],[-45.5,5.2e-4],[-45,5.4e-4],[-44.5,5.7e-4],[-44,6.1e-4],[-43.5,6.4e-4],[-43,6.7e-4],[-42.5,7.0e-4],[-42,7.4e-4],[-41.5,7.8e-4],[-41,8.3e-4],[-40.5,8.8e-4],[-40,9.3e-4],[-39.5,9.7e-4],[-39,1.0e-3],[-38.5,1.02e-3],[-38,1.05e-3],[-37.5,1.08e-3],[-37,1.12e-3],[-36.5,1.2e-3],[-36,1.3e-3],[-35.5,1.38e-3],[-35,1.45e-3],[-34.5,1.52e-3],[-34,1.58e-3],[-33.5,1.65e-3],[-33,1.72e-3],[-32.5,1.78e-3],[-32,1.85e-3],[-31.5,1.92e-3],[-31,2.0e-3],[-30.5,2.08e-3],[-30,2.12e-3],[-29.5,2.15e-3],[-29,2.25e-3],[-28.5,2.3e-3],[-28,2.35e-3],[-27.5,2.4e-3],[-27,2.5e-3],[-26.5,2.8e-3],[-26,3.3e-3],[-25.5,4.2e-3],[-25,5.3e-3],[-24.5,6.8e-3],[-24,8.2e-3],[-23.5,9.4e-3],[-23,0.0103],[-22.5,0.011],[-22,0.0117],[-21.5,0.0123],[-21,0.013],[-20.5,0.0138],[-20,0.0145],[-19.5,0.0152],[-19,0.016],[-18.5,0.0168],[-18,0.0175],[-17.5,0.0185],[-17,0.0195],[-16.5,0.021],[-16,0.0225],[-15.5,0.025],[-15,0.0275],[-14.5,0.026],[-14,0.023],[-13.5,0.02],[-13,0.018],[-12.5,0.0168],[-12,0.0165],[-11.5,0.018],[-11,0.021],[-10.7,0.023],[-10.3,0.021],[-10,0.0185],[-9.5,0.016],[-9,0.014],[-8.5,0.0123],[-8,0.011],[-7.5,0.0095],[-7,0.0085],[-6.5,0.0082],[-6,0.0084],[-5.5,0.0088],[-5,0.0095],[-4.5,0.0102],[-4,0.011],[-3.5,0.012],[-3,0.0135],[-2.5,0.015],[-2,0.017],[-1.5,0.019],[-1,0.023],[-0.6,0.03],[-0.3,0.04],[-0.1,600],[-0.1,300],[-0.1,60],[-0.1,6]];

// ---------- styling ----------
const FONT = "'Liberation Sans', Arial, Helvetica, sans-serif";
const TXT = '#1a1a1a';
const AXC = '#2a2a2a';
const RED = '#ff1414';
const C111 = '#5ab534', C90 = '#4ccfca', C65 = '#0808f2', C45 = '#18e618', C31 = '#000000';

function redLine(label, vals, w) {
  return {label, data: E_RED.map((e, i) => [e, vals[i]]), showLine: true, borderColor: RED,
    backgroundColor: RED, borderWidth: w, pointRadius: 0, pointHoverRadius: 0, tension: 0.2, clip: 0};
}
function filled(label, arr, color, r) {
  return {label, data: arr, showLine: false, pointRadius: r, pointHoverRadius: r,
    pointBackgroundColor: color, pointBorderColor: color, pointBorderWidth: 0, clip: 8};
}
function openPts(label, arr, color, r, bw) {
  return {label, data: arr, showLine: false, pointRadius: r, pointHoverRadius: r,
    pointBackgroundColor: 'rgba(0,0,0,0)', pointBorderColor: color, pointBorderWidth: bw, clip: 8};
}

// text drawn with a slight horizontal stretch (the reference glyphs are wide)
function textS(ctx, t, x, y, size, align, sx, rot) {
  ctx.save();
  ctx.translate(x, y);
  if (rot) ctx.rotate(rot);
  ctx.scale(sx, 1);
  ctx.font = size + 'px ' + FONT;
  ctx.textAlign = align;
  ctx.textBaseline = 'middle';
  ctx.fillText(t, 0, 0);
  ctx.restore();
}
function drawRich(ctx, x, y, segs, size, supSize, rise, sx) {
  let cx = x;
  ctx.textAlign = 'left';
  ctx.textBaseline = 'alphabetic';
  for (const [t, sup] of segs) {
    ctx.font = (sup ? supSize : size) + 'px ' + FONT;
    ctx.save();
    ctx.translate(cx, sup ? y - rise : y);
    ctx.scale(sx, 1);
    ctx.fillText(t, 0, 0);
    ctx.restore();
    cx += ctx.measureText(t).width * sx;
  }
}

const framePlugin = {
  id: 'frame',
  afterDatasetsDraw(chart, args, opts) {
    const {ctx, chartArea: a} = chart;
    const x = chart.scales.x, y = chart.scales.y;
    ctx.save();
    ctx.strokeStyle = AXC;
    ctx.lineWidth = 1.2;
    ctx.beginPath();
    for (let v = -50; v <= 0; v += 5) {
      const px = Math.round(x.getPixelForValue(v)) + 0.5;
      const len = (v % 10 === 0) ? 9 : 5;
      ctx.moveTo(px, a.bottom); ctx.lineTo(px, a.bottom - len);
      ctx.moveTo(px, a.top); ctx.lineTo(px, a.top + len);
    }
    for (let k = -4; k <= 4; k++) {
      for (let m = 1; m <= 9; m++) {
        const v = m * Math.pow(10, k);
        if (v > 1e4 * 1.0001) continue;
        const py = Math.round(y.getPixelForValue(v)) + 0.5;
        const len = (m === 1) ? 10 : 5;
        ctx.moveTo(a.left, py); ctx.lineTo(a.left + len, py);
        ctx.moveTo(a.right, py); ctx.lineTo(a.right - len, py);
      }
    }
    ctx.stroke();
    ctx.lineWidth = 1.6;
    ctx.strokeRect(a.left, a.top, a.right - a.left, a.bottom - a.top);
    ctx.fillStyle = TXT;
    // y tick labels: 10 with superscript exponent
    ctx.textBaseline = 'middle';
    ctx.textAlign = 'left';
    const right = a.left - opts.gap;
    for (const k of Y_DECADES) {
      const py = y.getPixelForValue(Math.pow(10, k));
      const e = k < 0 ? '\u2212' + (-k) : String(k);
      ctx.font = '15px ' + FONT;
      const ew = ctx.measureText(e).width;
      ctx.fillText(e, right - ew, py - 9);
      ctx.font = '24px ' + FONT;
      const bw = ctx.measureText('10').width;
      ctx.fillText('10', right - ew - bw - 0.5, py + 1.5);
    }
    // x tick labels
    X_TICKS.forEach((v, i) => textS(ctx, X_TICK_LABELS[i], x.getPixelForValue(v), 680, 23.5, 'center', 1.15));
    // axis titles
    textS(ctx, X_TITLE, (a.left + a.right) / 2, 717, 24, 'center', 1.12);
    textS(ctx, Y_TITLE, 27, (a.top + a.bottom) / 2, 24, 'center', 1.1, -Math.PI / 2);
    ctx.restore();
  }
};

const textPlugin = {
  id: 'annot',
  afterDraw(chart, args, opts) {
    const ctx = chart.ctx;
    ctx.save();
    ctx.fillStyle = TXT;
    textS(ctx, opts.panel.text, opts.panel.x, opts.panel.y, 25, 'left', 1.12);
    for (const it of opts.legend) {
      ctx.strokeStyle = RED;
      ctx.lineWidth = it.w;
      ctx.beginPath();
      ctx.moveTo(it.x, it.y); ctx.lineTo(it.x + 24, it.y);
      ctx.stroke();
      textS(ctx, it.text, it.x + 35, it.y + 0.5, 17, 'left', 1.12);
    }
    opts.labels.forEach((p, i) => {
      const segs = [[ANGLE_LABELS[i]], ['o', 1], [' ' + SCALE_LABELS[i]]];
      if (SCALE_EXPONENTS[i]) { segs.push([SCALE_EXPONENTS[i], 1]); segs.push([')']); }
      drawRich(ctx, p[0], p[1], segs, 21, 13, 8, 1.03);
    });
    ctx.restore();
  }
};

function makeOptions(yWidth, padRight, annot) {
  return {
    responsive: false, animation: false, devicePixelRatio: 1,
    layout: {padding: {left: 0, right: padRight, top: 27, bottom: 0}},
    plugins: {legend: {display: false}, tooltip: {enabled: false}, frame: {gap: 27}, annot},
    scales: {
      x: {type: 'linear', min: -50, max: 0, position: 'bottom',
        grid: {display: false, drawTicks: false}, border: {display: false},
        ticks: {display: false, stepSize: 10},
        title: {display: false, text: X_TITLE},
        afterFit: (s) => { s.height = 76; }},
      y: {type: 'logarithmic', min: 1e-4, max: 1e4, position: 'left',
        grid: {display: false, drawTicks: false}, border: {display: false},
        ticks: {display: false},
        title: {display: false, text: Y_TITLE},
        afterFit: (s) => { s.width = yWidth; }}
    }
  };
}

// ---------- panel (a) ----------
const dsA = [
  redLine('Zy4 rod (IN6, E=3.12 meV, T=294 K) 111', A111_ROD, 3),
  redLine('Zy4 rod 90', A90_ROD, 3),
  redLine('Zy4 rod 65', A65_ROD, 3),
  redLine('Zy4 rod 45', A45_ROD, 3),
  redLine('Zy4 rod 31', A31_ROD, 3),
  redLine('Zy4 tube (IN6, E=3.12 meV, T=294 K) 111', A111_TUBE, 1.2),
  redLine('Zy4 tube 90', A90_TUBE, 1.2),
  redLine('Zy4 tube 65', A65_TUBE, 1.2),
  redLine('Zy4 tube 45', A45_TUBE, 1.2),
  redLine('Zy4 tube 31', A31_TUBE, 1.2),
  filled('31 rod', A31_FILLED, C31, 4.3),
  openPts('31 tube', A31_OPEN, C31, 3.2, 1.3),
  filled('45 rod', A45_FILLED, C45, 4.5),
  openPts('45 tube', A45_OPEN, C45, 4.2, 1.4),
  filled('65 rod', A65_FILLED, C65, 4.6),
  openPts('65 tube', A65_OPEN, C65, 4.3, 1.5),
  filled('90 rod', A90_FILLED, C90, 4.5),
  openPts('90 tube', A90_OPEN, C90, 4.3, 1.5),
  filled('111 rod', A111_FILLED, C111, 4.5),
  openPts('111 tube', A111_OPEN, C111, 4.3, 1.5)
];
new Chart(document.getElementById('ca'), {
  type: 'scatter',
  data: {datasets: dsA},
  options: makeOptions(124, 11, {
    panel: {text: '(a)', x: 142, y: 132},
    legend: [
      {x: 146, y: 61, w: 1.3, text: 'Zy4 tube (IN6, E=3.12 meV, T=294 K)'},
      {x: 146, y: 84, w: 3.2, text: 'Zy4 rod (IN6, E=3.12 meV, T=294 K)'}
    ],
    labels: [[216, 222], [227, 303], [227, 382], [227, 467], [230, 542]]
  }),
  plugins: [framePlugin, textPlugin]
});

// ---------- panel (b) ----------
const dsB = [
  redLine('Zy4 rod (IN5, E=3.55 meV, T=296 K) 111', B111_ROD, 2.6),
  redLine('Zy4 rod 90', B90_ROD, 2.6),
  redLine('Zy4 rod 65', B65_ROD, 2.6),
  redLine('Zy4 rod 45', B45_ROD, 2.6),
  redLine('Zy4 rod 31', B31_ROD, 2.6),
  filled('31', B31_DATA, C31, 6.3),
  filled('45', B45_DATA, C45, 6.0),
  filled('65', B65_DATA, C65, 6.3),
  filled('90', B90_DATA, C90, 6.3),
  filled('111', B111_DATA, C111, 6.3)
];
new Chart(document.getElementById('cb'), {
  type: 'scatter',
  data: {datasets: dsB},
  options: makeOptions(130, 24, {
    panel: {text: '(b)', x: 157, y: 132},
    legend: [
      {x: 152, y: 70, w: 2.8, text: 'Zy4 rod (IN5, E=3.55 meV, T=296 K)'}
    ],
    labels: [[221, 223], [234, 303], [234, 382], [234, 467], [236, 542]]
  }),
  plugins: [framePlugin, textPlugin]
});
</script>
</body></html>
